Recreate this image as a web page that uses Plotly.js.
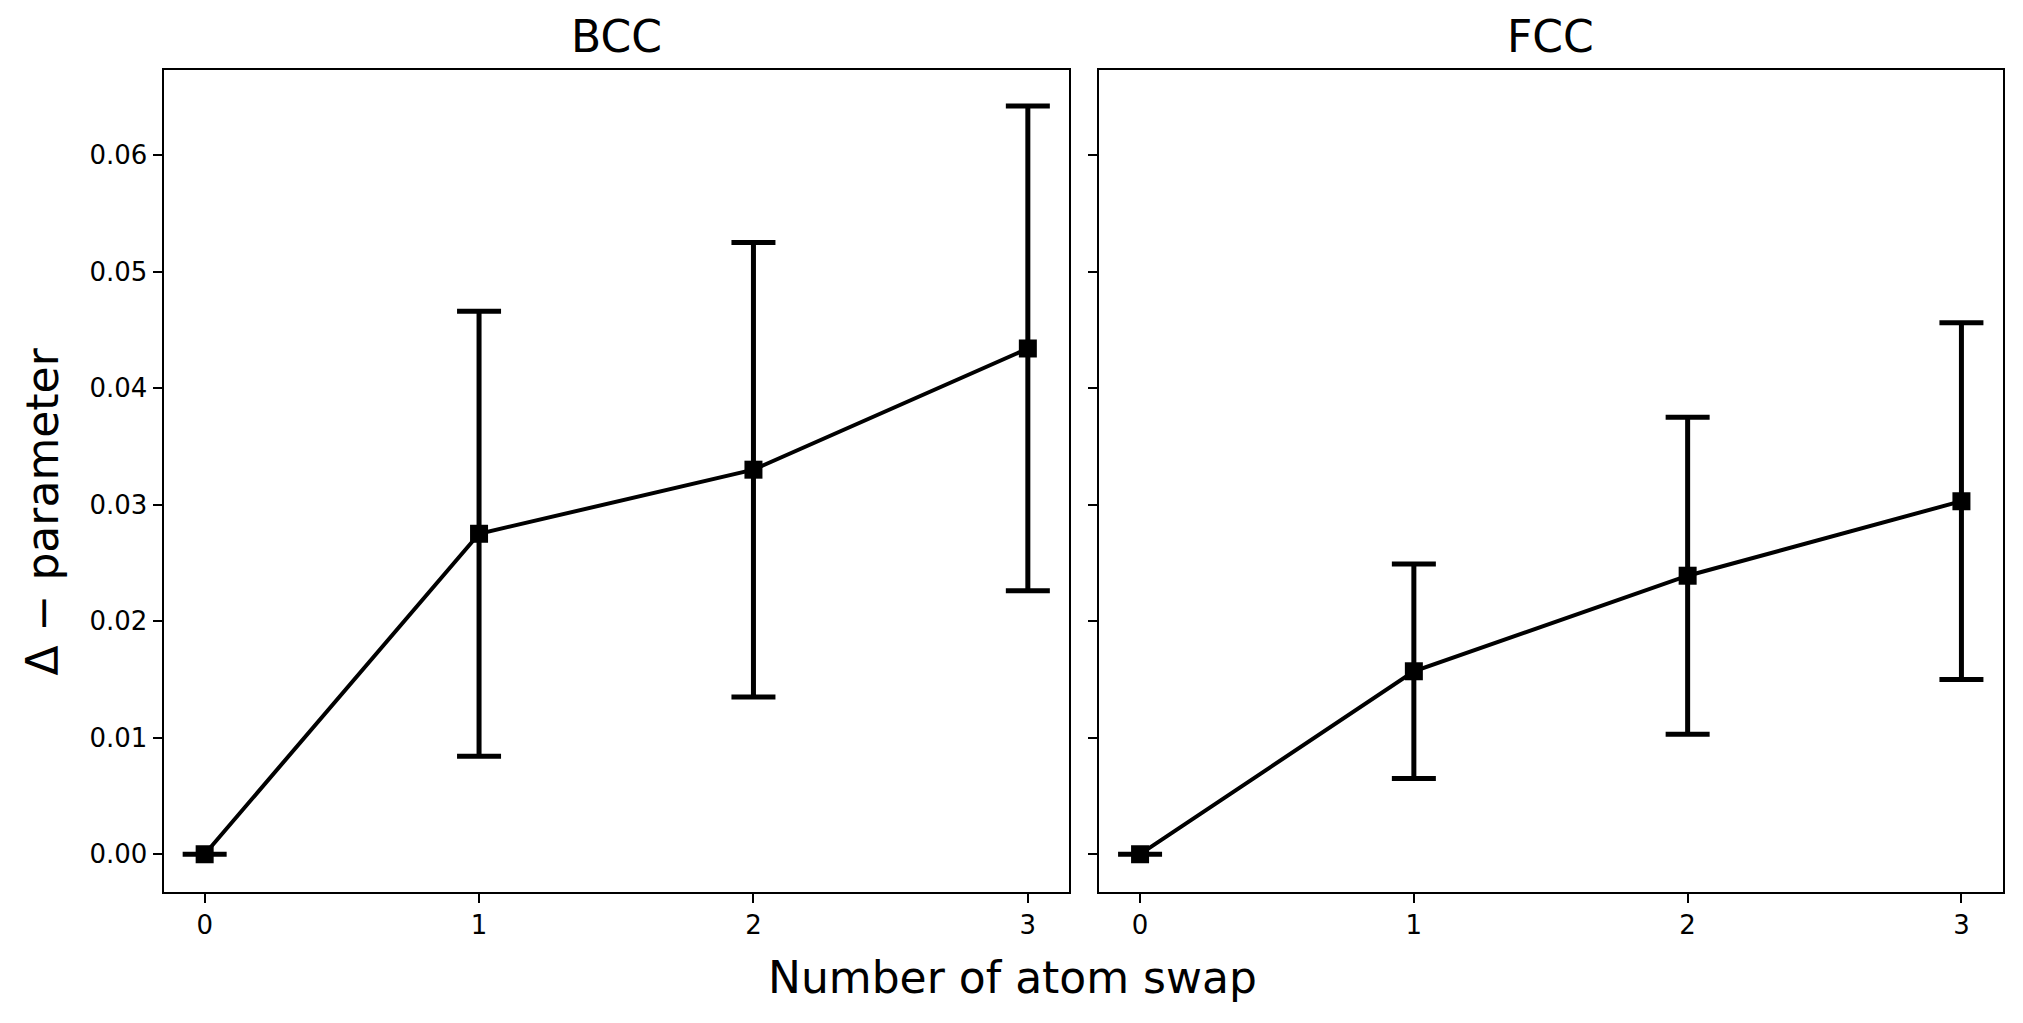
<!DOCTYPE html>
<html>
<head>
<meta charset="utf-8">
<script src="https://cdn.plot.ly/plotly-3.0.1.min.js"></script>
<style>html,body{margin:0;padding:0;background:#fff;}#chart{width:2023px;height:1023px;}</style>
</head>
<body>
<div id="chart"></div>
<script>
// Data
const swaps = [0, 1, 2, 3];
const bccMean = [0, 0.0275, 0.0330, 0.0434];
const bccErr  = [0, 0.0191, 0.0195, 0.0208];
const fccMean = [0, 0.0157, 0.0239, 0.0303];
const fccErr  = [0, 0.0092, 0.0136, 0.0153];
const panelTitles = ["BCC", "FCC"];
const xLabel = "Number of atom swap";
const yLabel = "Δ − parameter";

const W = 2023, H = 1023;
const FONT = "DejaVu Sans";

function trace(x, y, e, xa, ya) {
  return {
    type: 'scatter', mode: 'lines+markers', x: x, y: y,
    xaxis: xa, yaxis: ya, showlegend: false,
    line: {color: 'black', width: 4},
    marker: {symbol: 'square', size: 18, color: 'black'},
    error_y: {type: 'data', array: e, visible: true, color: 'black', thickness: 5, width: 22}
  };
}

const data = [
  trace(swaps, bccMean, bccErr, 'x', 'y'),
  trace(swaps, fccMean, fccErr, 'x2', 'y2')
];

const yTop = 1 - 70 / H, yBot = 1 - 891.5 / H;
const commonX = {
  range: [-0.15, 3.15], tickmode: 'linear', tick0: 0, dtick: 1,
  showgrid: false, zeroline: false, showline: true, mirror: true,
  linecolor: 'black', linewidth: 2, ticks: 'outside', ticklen: 9, tickwidth: 2, tickcolor: 'black',
  tickfont: {family: FONT, size: 26, color: 'black'}
};
const commonY = {
  range: [-0.0032, 0.0673], tickmode: 'linear', tick0: 0, dtick: 0.01, tickformat: '.2f',
  showgrid: false, zeroline: false, showline: true, mirror: true,
  linecolor: 'black', linewidth: 2, ticks: 'outside', ticklen: 9, tickwidth: 2, tickcolor: 'black',
  tickfont: {family: FONT, size: 26, color: 'black'}, domain: [yBot, yTop]
};

const layout = {
  width: W, height: H,
  margin: {l: 0, r: 0, t: 0, b: 0},
  paper_bgcolor: 'white', plot_bgcolor: 'white',
  font: {family: FONT, color: 'black'},
  xaxis: Object.assign({}, commonX, {domain: [163.5 / W, 1069 / W], anchor: 'y'}),
  xaxis2: Object.assign({}, commonX, {domain: [1099 / W, 2002.5 / W], anchor: 'y2'}),
  yaxis: Object.assign({}, commonY, {anchor: 'x'}),
  yaxis2: Object.assign({}, commonY, {anchor: 'x2', showticklabels: false}),
  annotations: [
    {text: panelTitles[0], xref: 'paper', yref: 'paper', x: (163.5 + 1069) / 2 / W, y: 1 - 37 / H,
     xanchor: 'center', yanchor: 'middle', showarrow: false, font: {family: FONT, size: 44, color: 'black'}},
    {text: panelTitles[1], xref: 'paper', yref: 'paper', x: (1099 + 2002.5) / 2 / W, y: 1 - 37 / H,
     xanchor: 'center', yanchor: 'middle', showarrow: false, font: {family: FONT, size: 44, color: 'black'}},
    {text: xLabel, xref: 'paper', yref: 'paper', x: 1012 / W, y: 1 - 977 / H,
     xanchor: 'center', yanchor: 'middle', showarrow: false, font: {family: FONT, size: 44, color: 'black'}},
    {text: yLabel, xref: 'paper', yref: 'paper', x: 42 / W, y: 0.5, textangle: -90,
     xanchor: 'center', yanchor: 'middle', showarrow: false, font: {family: FONT, size: 44, color: 'black'}}
  ]
};

Plotly.newPlot('chart', data, layout, {displayModeBar: false, staticPlot: true});
</script>
</body>
</html>
